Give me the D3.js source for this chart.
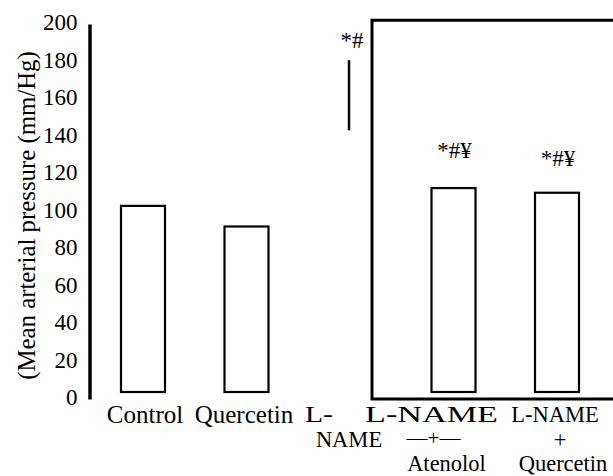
<!DOCTYPE html>
<html><head><meta charset="utf-8">
<script src="https://cdn.jsdelivr.net/npm/d3@7/dist/d3.min.js"></script>
<style>
html,body{margin:0;padding:0;background:#fff;}
svg{display:block;}
text{font-family:"Liberation Serif","Times New Roman",serif;fill:#000;}
</style></head>
<body>
<svg id="chart" width="613" height="476"></svg>
<script>
// ---- data ----
const categories = ["Control", "Quercetin", "L-NAME", "L-NAME + Atenolol", "L-NAME + Quercetin"];
const meanValues = [103, 92, 162, 112.5, 110];
const sdValues = [0, 0, 18.7, 0, 0];
const drawBar = [true, true, false, true, true];
const annotations = ["", "", "*#", "*#\u00A5", "*#\u00A5"];
const yTicks = [0, 20, 40, 60, 80, 100, 120, 140, 160, 180, 200];
const yTitle = "(Mean arterial pressure (mm/Hg)";
const labelLines = [["Control"], ["Quercetin"], ["L-", "NAME"], ["L-NAME", "\u2014+\u2014", "Atenolol"], ["L-NAME", "+", "Quercetin"]];
const frameTop = 202; // top of the large open frame, in axis units

// ---- layout ----
const svg = d3.select("#chart");
const W = 613, H = 476;
const y = d3.scaleLinear().domain([0, 200]).range([399, 24]);
const x = d3.scalePoint().domain(categories).range([91.25, 608.75]).padding(0.5);
const barW = 44;
const baseInset = 7;

// y axis
const yAxis = d3.axisLeft(y).tickValues(yTicks).tickSize(0).tickPadding(12).tickFormat(d3.format("d"));
const gy = svg.append("g").attr("transform", "translate(89.5,0)").call(yAxis);
gy.select(".domain").attr("stroke", "#000").attr("stroke-width", 3.5);
gy.selectAll("text").attr("font-size", 23).attr("font-family", "Liberation Serif").attr("dy", "0.26em").attr("fill", "#000");

// y title
svg.append("text")
  .attr("transform", `translate(26,${(y(0)+y(200))/2 + 4}) rotate(-90)`)
  .attr("text-anchor", "middle").attr("dominant-baseline", "central")
  .attr("font-size", 24.8).text(yTitle);

// large open frame to the right of the L-NAME group
const fx = x("L-NAME") + barW / 2;
svg.append("path")
  .attr("d", `M${W + 5},${y(frameTop)}H${fx}V${y(0)}H${W + 5}`)
  .attr("fill", "none").attr("stroke", "#000").attr("stroke-width", 3);

// bars
const data = categories.map((c, i) => ({c, v: meanValues[i], sd: sdValues[i], draw: drawBar[i], ann: annotations[i]}));
svg.selectAll("rect.bar").data(data.filter(d => d.draw)).join("rect")
  .attr("class", "bar")
  .attr("x", d => x(d.c) - barW / 2)
  .attr("y", d => y(d.v))
  .attr("width", barW)
  .attr("height", d => y(0) - baseInset - y(d.v))
  .attr("fill", "#fff").attr("stroke", "#000").attr("stroke-width", 2.2);

// error bars
svg.selectAll("line.err").data(data.filter(d => d.sd > 0)).join("line")
  .attr("class", "err")
  .attr("x1", d => x(d.c) - 1).attr("x2", d => x(d.c) - 1)
  .attr("y1", d => y(d.v + d.sd)).attr("y2", d => y(d.v - d.sd))
  .attr("stroke", "#000").attr("stroke-width", 2.5);

// annotations
const annOffset = {"L-NAME": [2, 48], "L-NAME + Atenolol": [1, 158], "L-NAME + Quercetin": [1, 166]};
svg.selectAll("text.ann").data(data.filter(d => d.ann)).join("text")
  .attr("class", "ann")
  .attr("x", d => x(d.c) + annOffset[d.c][0])
  .attr("y", d => annOffset[d.c][1])
  .attr("text-anchor", "middle").attr("font-size", 23)
  .text(d => d.ann);

// category labels (irregular placement as in the source figure)
const lineLayout = [
  [{dx: 2}],
  [{dx: -2.5}],
  [{dx: -45, anchor: "start", wide: 28}, {dx: -1}],
  [{dx: -22, wide: 133}, {dx: -20, small: true}, {dx: -7}],
  [{dx: -2}, {dx: 3}, {dx: 6}]
];
const baselines = [422, 446.5, 471];
data.forEach((d, i) => {
  const multi = labelLines[i].length > 1;
  const t = svg.append("text").attr("font-size", multi ? 22.5 : 25).attr("text-anchor", "middle");
  labelLines[i].forEach((ln, j) => {
    const L = lineLayout[i][j];
    const s = t.append("tspan")
      .attr("x", x(d.c) + L.dx)
      .attr("y", multi ? baselines[j] : baselines[j] + 1)
      .attr("text-anchor", L.anchor || "middle")
      .text(ln);
    if (L.wide) {
      s.attr("textLength", L.wide).attr("lengthAdjust", "spacingAndGlyphs");
    }
    if (L.small) s.attr("font-size", 21).attr("y", baselines[j] - 2);
  });
});
</script>
</body></html>
